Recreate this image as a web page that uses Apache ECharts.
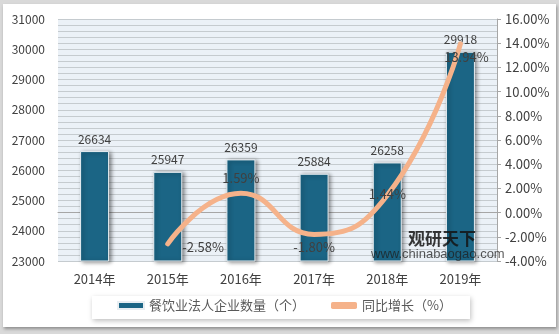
<!DOCTYPE html>
<html><head><meta charset="utf-8">
<script src="https://cdn.jsdelivr.net/npm/echarts@6/dist/echarts.min.js"></script>
<style>
html,body{margin:0;padding:0;width:559px;height:334px;background:#d9d9d9;overflow:hidden}
#frame{position:absolute;left:3px;top:4px;width:553px;height:323px;background:#fff;box-shadow:1px 2px 3px rgba(0,0,0,0.35)}
#c{position:absolute;left:0;top:0;width:559px;height:334px}
</style></head>
<body><div id="frame"></div><div id="c"></div>
<script>
const categories = ['2014年','2015年','2016年','2017年','2018年','2019年'];
const firmCounts = [26634, 25947, 26359, 25884, 26258, 29918];
const growthRates = [null, -2.58, 1.59, -1.80, 1.44, 13.94];
const growthLabelPos = [null, 'right', 'top', 'bottom', 'inside', 'bottom'];
const barName = '餐饮业法人企业数量（个）';
const lineName = '同比增长（%）';

const font = '"Microsoft YaHei","Noto Sans CJK SC",sans-serif';
const labelOffsets = [[0,0],[8,3],[0,-2],[0,0],[0,-1],[6,0]];
const chart = echarts.init(document.getElementById('c'), null, {renderer:'canvas'});
chart.setOption({
  animation:false,
  textStyle:{fontFamily:font},
  graphic:[
    {type:'rect', left:92, top:296, shape:{width:378,height:23},
     style:{fill:'#fff', shadowColor:'rgba(0,0,0,0.25)', shadowBlur:5, shadowOffsetX:1, shadowOffsetY:2}, z:-1},
    {type:'text', left:408, top:230, z:100, style:{text:'观研天下', fill:'rgba(20,20,20,0.85)', font:'bold 17px '+font}},
    {type:'text', left:371, top:248, z:100, style:{text:'www.chinabaogao.com', fill:'rgba(30,30,30,0.75)', font:'13px Arial, sans-serif'}}
  ],
  legend:{
    bottom:17, left:112, itemGap:26, itemHeight:7, itemWidth:26,
    textStyle:{color:'#595959', fontSize:13, fontFamily:font},
    data:[{name:barName, icon:'rect'},{name:lineName, icon:'roundRect', itemStyle:{color:'#f5b28a', opacity:1}}]
  },
  grid:{left:58, right:62, top:19, bottom:73, show:true, backgroundColor:'#ebf1f7', borderWidth:0},
  xAxis:{type:'category', data:categories,
    axisLine:{lineStyle:{color:'#a6a6a6'}}, axisTick:{show:false},
    axisLabel:{color:'#404040', fontSize:13, margin:12}},
  yAxis:[
    {type:'value', min:23000, max:31000, interval:1000,
     axisLabel:{color:'#404040', fontSize:12, margin:13, formatter:v=>String(v)},
     axisLine:{show:false}, axisTick:{show:false},
     splitLine:{lineStyle:{color:'#c5cbcf', width:1}},
     minorTick:{show:false, splitNumber:5},
     minorSplitLine:{show:true, lineStyle:{color:'#c5cbcf', width:1}}},
    {type:'value', min:-4, max:16, interval:2, position:'right',
     axisLabel:{color:'#404040', fontSize:13, margin:8, formatter:v=>v.toFixed(2)+'%'},
     axisLine:{show:true, lineStyle:{color:'#a6a6a6'}},
     axisTick:{show:true, inside:false, length:4, lineStyle:{color:'#a6a6a6'}},
     splitLine:{show:false}}
  ],
  series:[
    {name:barName, type:'bar', data:firmCounts, barWidth:29, yAxisIndex:0,
     itemStyle:{color:'#1b6585', borderColor:'#e8eef2', borderWidth:1,
       shadowColor:'rgba(0,0,0,0.45)', shadowBlur:4, shadowOffsetX:2, shadowOffsetY:1},
     label:{show:true, position:'top', color:'#404040', fontSize:12, distance:6}},
    {name:lineName, type:'line', data:growthRates.map((v,i)=>({value:v,
       label:{position:growthLabelPos[i], offset:labelOffsets[i]}})),
     yAxisIndex:1, smooth:true, showSymbol:true, symbol:'circle', symbolSize:1, connectNulls:false,
     lineStyle:{color:'#f5b28a', width:5, cap:'round'},
     itemStyle:{color:'#f5b28a'},
     label:{show:true, color:'#404040', fontSize:13, distance:6,
       formatter:p=>p.value==null?'':p.value.toFixed(2)+'%'}}
  ]
});
</script></body></html>
